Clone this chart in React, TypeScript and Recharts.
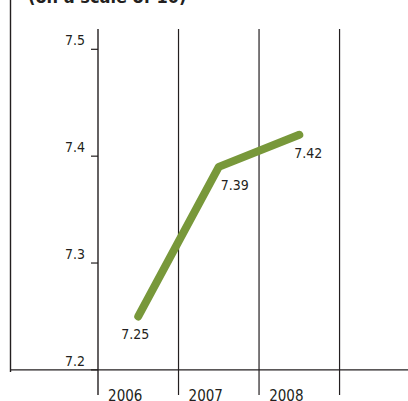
import { LineChart, Line, XAxis, YAxis, ReferenceLine, LabelList } from "recharts";

const years = ["2006", "2007", "2008"];
const scores = [7.25, 7.39, 7.42];
const yTicks = [7.2, 7.3, 7.4, 7.5];
const bandEdges = [1, 2, 3];
const bandCenters = [0.5, 1.5, 2.5];

const data = years.map((year, i) => ({ pos: bandCenters[i], year, score: scores[i] }));

const FONT = "'Liberation Sans Narrow', 'DejaVu Sans Condensed', 'Open Sans', sans-serif";
const GREEN = "#78983a";
const INK = "#231f20";
// frame starts left of the plot area, in x-axis units
const FRAME_LEFT = -1.093;
// horizontal nudge of each value label away from the line
const LABEL_DX = [-3, 16, 9];

function YTick({ x, y, payload }: any) {
  return (
    <text x={x - 4} y={y - 4} textAnchor="end" fontFamily={FONT} fontSize={14} fill={INK}>
      {Number(payload.value).toFixed(1)}
    </text>
  );
}

function XTick({ x, y, payload }: any) {
  const year = years[bandCenters.indexOf(payload.value)];
  return (
    <text x={x - 13} y={y + 6} textAnchor="middle" fontFamily={FONT} fontSize={15} fill={INK}>
      {year}
    </text>
  );
}

function PointLabel({ x, y, value, index }: any) {
  return (
    <text x={x + (LABEL_DX[index] ?? 0)} y={y + 23} textAnchor="middle" fontFamily={FONT} fontSize={14} fill={INK}>
      {value}
    </text>
  );
}

export default function App() {
  return (
    <div style={{ position: "absolute", left: 0, top: 0, width: 408, height: 401, background: "#fff", overflow: "hidden" }}>
      <LineChart width={408} height={401} data={data} margin={{ top: 29, right: 0, bottom: 5, left: 0 }}>
        <XAxis
          type="number"
          dataKey="pos"
          domain={[0, 3.85]}
          allowDataOverflow
          ticks={bandCenters}
          tick={<XTick />}
          tickLine={false}
          axisLine={false}
          tickSize={0}
          tickMargin={0}
          height={1}
        />
        <YAxis
          type="number"
          domain={[7.1765, 7.519]}
          allowDataOverflow
          ticks={yTicks}
          width={98}
          tick={<YTick />}
          tickSize={7}
          tickMargin={2}
          tickLine={{ stroke: INK, strokeWidth: 1.2 }}
          axisLine={{ stroke: INK, strokeWidth: 1.4 }}
        />
        {bandEdges.map((edge) => (
          <ReferenceLine key={edge} x={edge} stroke={INK} strokeWidth={1.2} />
        ))}
        <ReferenceLine
          segment={[{ x: FRAME_LEFT, y: 7.2 }, { x: 3.85, y: 7.2 }]}
          ifOverflow="visible"
          stroke={INK}
          strokeWidth={1.4}
        />
        <Line
          type="linear"
          dataKey="score"
          stroke={GREEN}
          strokeWidth={8}
          strokeLinecap="round"
          strokeLinejoin="round"
          dot={false}
          isAnimationActive={false}
        >
          <LabelList dataKey="score" content={<PointLabel />} />
        </Line>
      </LineChart>
      <svg width={408} height={401} style={{ position: "absolute", left: 0, top: 0, pointerEvents: "none" }}>
        <line x1={10.5} y1={0} x2={10.5} y2={372} stroke={INK} strokeWidth={1.4} />
        <text x={28} y={3} fontFamily={FONT} fontWeight="bold" fontSize={18} fill={INK}>
          (on a scale of 10)
        </text>
      </svg>
    </div>
  );
}
